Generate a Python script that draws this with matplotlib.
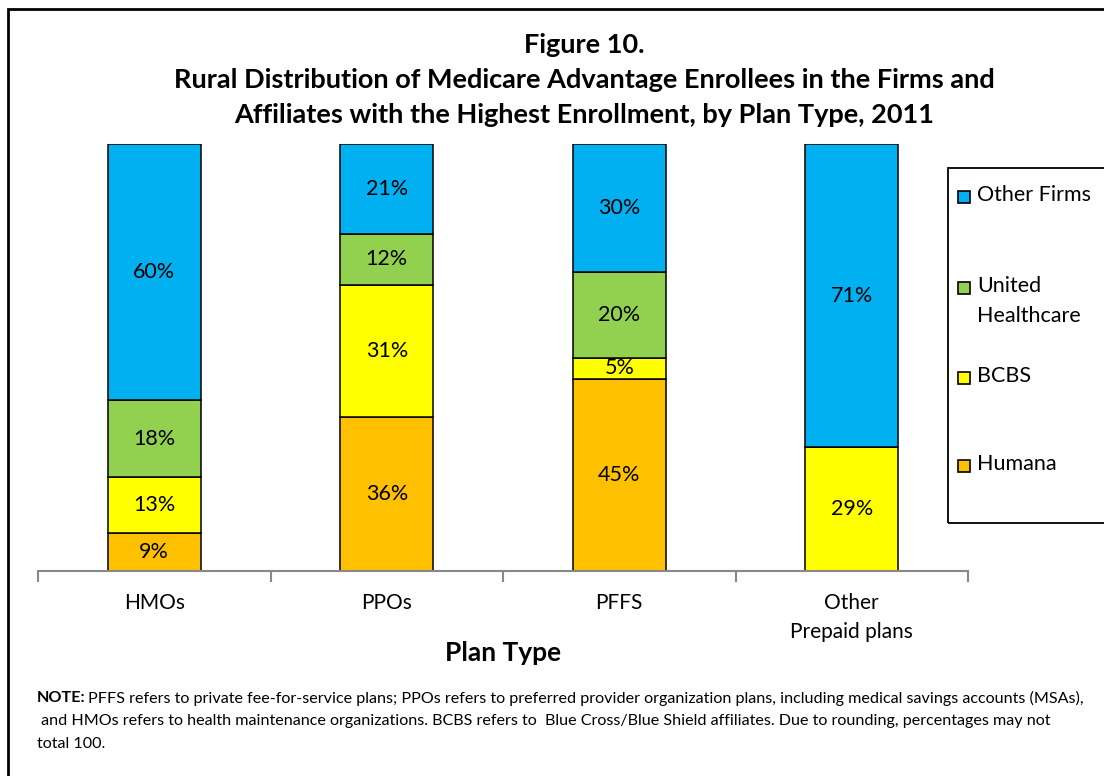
import matplotlib
matplotlib.use("Agg")
import matplotlib.pyplot as plt
from matplotlib.patches import Rectangle
import numpy as np

plt.rcParams['font.family'] = ['Lato', 'DejaVu Sans']

# data
plan_types = ["HMOs", "PPOs", "PFFS", "Other\nPrepaid plans"]
series = ["Humana", "BCBS", "United\nHealthcare", "Other Firms"]
humana = [9, 36, 45, 0]
bcbs = [13, 31, 5, 29]
united = [18, 12, 20, 0]
other_firms = [60, 21, 30, 71]
colors = ["#FFC000", "#FFFF00", "#92D050", "#00B0F0"]

W, H = 1104, 776
fig = plt.figure(figsize=(W / 100, H / 100), dpi=100)

# outer frame (runs off the right/bottom edge like the source)
fig.patches.append(Rectangle((8 / W, -0.05), 1.2, 1 - 9 / H + 0.05, transform=fig.transFigure,
                             fill=False, edgecolor="black", linewidth=2))

ax = fig.add_axes([38 / W, 1 - 571 / H, (968 - 38) / W, (571 - 144) / H])
x = np.arange(len(plan_types))
bottom = np.zeros(len(plan_types))
for vals, col in zip([humana, bcbs, united, other_firms], colors):
    vals = np.array(vals, dtype=float)
    bars = ax.bar(x, vals, width=0.4, bottom=bottom, color=col, edgecolor="black", linewidth=1.1)
    for b, v, b0 in zip(bars, vals, bottom):
        if v > 0:
            ax.text(b.get_x() + b.get_width() / 2, b0 + v / 2, f"{v:.0f}%",
                    ha="center", va="center", fontsize=15.5)
    bottom += vals

ax.set_xlim(-0.5, len(plan_types) - 0.5)
ax.set_ylim(0, 100)
ax.set_yticks([])
for s in ["left", "right", "top"]:
    ax.spines[s].set_visible(False)
ax.spines["bottom"].set_color("#888888")
ax.spines["bottom"].set_linewidth(1.5)
ax.set_xticks(x)
ax.set_xticklabels(plan_types, fontsize=15)
for lab in ax.get_xticklabels():
    lab.set_linespacing(1.55)
ax.tick_params(axis="x", which="major", length=0, pad=16)
ax.set_xticks(np.arange(-0.5, len(plan_types)), minor=True)
ax.tick_params(axis="x", which="minor", length=8, width=1.5, color="#888888")
ax.set_xlabel("Plan Type", fontsize=19, fontweight="bold")
ax.xaxis.set_label_coords(0.5, -(641 - 571) / 427)

# title
title_lines = ["Figure 10.",
               "Rural Distribution of Medicare Advantage Enrollees in the Firms and",
               "Affiliates with the Highest Enrollment, by Plan Type, 2011"]
for line, yy in zip(title_lines, [45, 80, 115]):
    fig.text(584 / W, 1 - yy / H, line, ha="center", va="center", fontsize=19.5, fontweight="bold")

# legend box
fig.patches.append(Rectangle((948 / W, 1 - 523 / H), 160 / W, (523 - 168) / H,
                             transform=fig.transFigure, fill=False, edgecolor="black", linewidth=1.3))
leg_y = [197, 288, 378, 466]
for name, col, yy in zip(series[::-1], colors[::-1], leg_y):
    fig.patches.append(Rectangle((958 / W, 1 - (yy + 6) / H), 12 / W, 12 / H,
                                 transform=fig.transFigure, facecolor=col, edgecolor="black", linewidth=1.2))
    fig.text(977 / W, 1 - (yy - 12) / H, name, ha="left", va="top", fontsize=15.5, linespacing=1.65)

# note
fs = 11.6
fig.text(37 / W, 1 - 698 / H, "NOTE:", ha="left", va="center", fontsize=fs, fontweight="bold")
fig.text(88 / W, 1 - 698 / H,
         "PFFS refers to private fee-for-service plans; PPOs refers to preferred provider organization plans, "
         "including medical savings accounts (MSAs),",
         ha="left", va="center", fontsize=fs)
fig.text(37 / W, 1 - 721 / H,
         " and HMOs refers to health maintenance organizations. BCBS refers to  Blue Cross/Blue Shield affiliates. "
         "Due to rounding, percentages may not",
         ha="left", va="center", fontsize=fs)
fig.text(37 / W, 1 - 744 / H, "total 100.", ha="left", va="center", fontsize=fs)

fig.savefig("out.png", dpi=100)
